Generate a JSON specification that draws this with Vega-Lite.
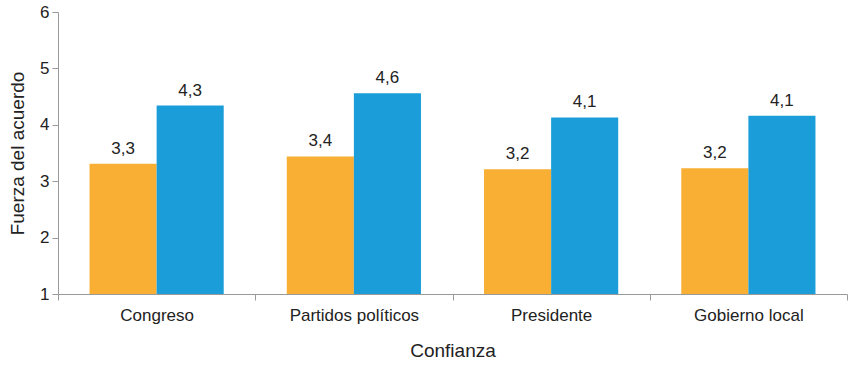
{
  "$schema": "https://vega.github.io/schema/vega-lite/v6.json",
  "width": 848,
  "height": 365,
  "autosize": {"type": "fit", "contains": "padding"},
  "padding": {"left": 8, "top": 3, "right": 0, "bottom": 5},
  "config": {
    "locale": {"number": {"decimal": ",", "thousands": ".", "grouping": [3], "currency": ["", " €"]}},
    "view": {"stroke": null},
    "font": "Liberation Sans",
    "axis": {"domainColor": "#9a9a9a", "tickColor": "#9a9a9a", "labelColor": "#222", "titleColor": "#222", "labelFontSize": 17, "titleFontSize": 19, "titleFontWeight": "normal", "grid": false, "labelFont": "Liberation Sans", "titleFont": "Liberation Sans"}
  },
  "data": {"values": [
    {"cat": "Congreso", "g": "A", "v": 3.31, "lab": 3.3},
    {"cat": "Congreso", "g": "B", "v": 4.34, "lab": 4.3},
    {"cat": "Partidos políticos", "g": "A", "v": 3.44, "lab": 3.4},
    {"cat": "Partidos políticos", "g": "B", "v": 4.56, "lab": 4.6},
    {"cat": "Presidente", "g": "A", "v": 3.21, "lab": 3.2},
    {"cat": "Presidente", "g": "B", "v": 4.13, "lab": 4.1},
    {"cat": "Gobierno local", "g": "A", "v": 3.23, "lab": 3.2},
    {"cat": "Gobierno local", "g": "B", "v": 4.16, "lab": 4.1}
  ]},
  "encoding": {
    "x": {"field": "cat", "type": "nominal", "sort": null, "title": "Confianza",
      "scale": {"paddingInner": 0, "paddingOuter": 0},
      "axis": {"labelAngle": 0, "tickBand": "extent", "tickSize": 6, "labelPadding": 7, "titlePadding": 18}},
    "xOffset": {"field": "g", "type": "nominal", "scale": {"paddingInner": 0, "paddingOuter": 0.47}},
    "y": {"field": "v", "type": "quantitative", "title": "Fuerza del acuerdo",
      "scale": {"domain": [1, 6], "zero": false, "nice": false},
      "axis": {"values": [1, 2, 3, 4, 5, 6], "tickSize": 6, "labelPadding": 3, "titlePadding": 12, "format": "d"}}
  },
  "layer": [
    {"mark": {"type": "bar"},
     "encoding": {
       "y2": {"datum": 1},
       "color": {"field": "g", "type": "nominal", "legend": null, "scale": {"domain": ["A", "B"], "range": ["#F9AE34", "#1A9DD9"]}}
     }},
    {"mark": {"type": "text", "dy": -15, "fontSize": 17, "color": "#222", "font": "Liberation Sans"},
     "encoding": {"text": {"field": "lab", "type": "quantitative", "format": ".1f"}}}
  ]
}
